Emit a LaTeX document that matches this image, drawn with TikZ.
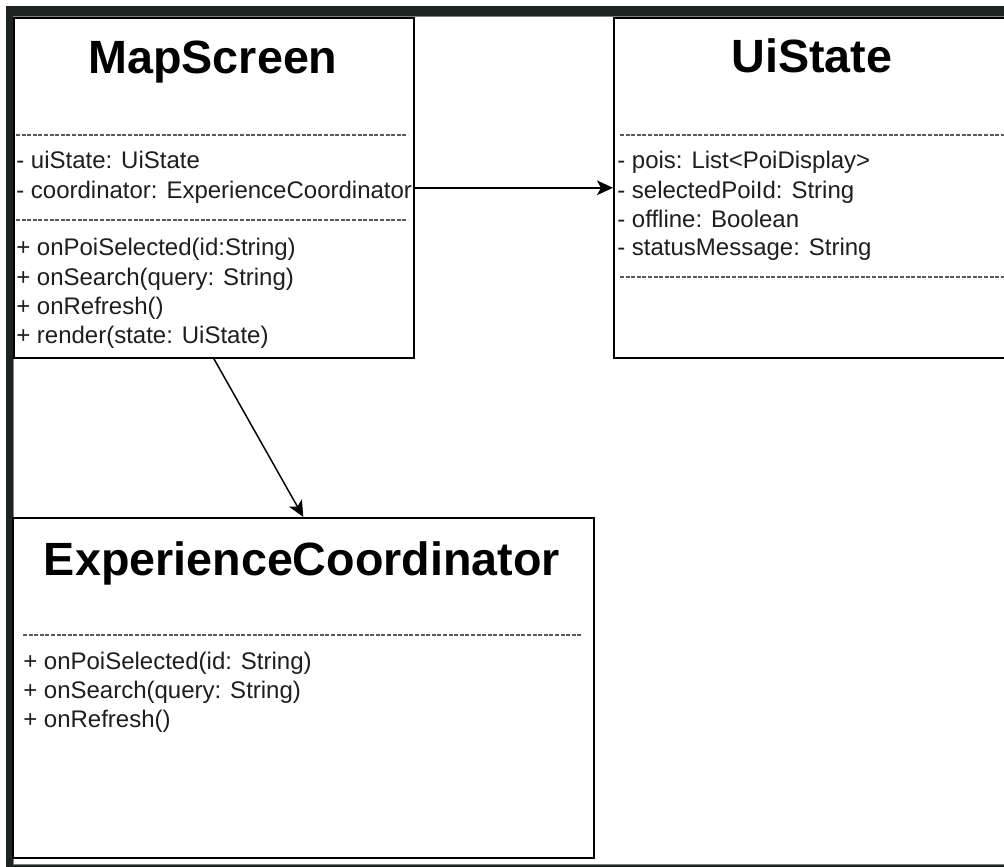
\documentclass[tikz,border=0pt]{standalone}
\usepackage{fontspec}
\setmainfont{Liberation Sans}
\usetikzlibrary{arrows.meta}
\definecolor{framedark}{RGB}{27,36,32}
\definecolor{textgray}{RGB}{30,30,30}

\tikzset{
  classbox/.style={draw=black, line width=1.2pt, fill=white, anchor=north west, inner sep=0pt},
  classname/.style={font=\fontsize{35pt}{40pt}\selectfont\bfseries, anchor=base, inner sep=0pt},
  member/.style={font=\fontsize{18pt}{22pt}\selectfont, text=textgray, anchor=base west, inner sep=0pt},
  sepline/.style={draw=gray!70!black, line width=0.8pt, dash pattern=on 3pt off 1.2pt},
  assoc/.style={-{Stealth[length=12pt,width=11pt,inset=3pt]}, line width=1.1pt}
}

\begin{document}
\begin{tikzpicture}[x=0.75pt, y=-0.75pt]
  \clip (0,0) rectangle (1004,867);
  % window frame
  \fill[framedark] (6,6) rectangle (1004,867);
  \filldraw[fill=white, draw=gray, line width=0.6pt] (13,16) rectangle (1010,864);

  % MapScreen
  \node[classbox, minimum width=300pt, minimum height=255pt] (ms) at (13,17) {};
  \node[classname] (msname) at (213,74) {MapScreen};
  \draw[sepline] (16,135) -- (408,135);
  \node[member] (ms1) at (16,169) {- uiState: UiState};
  \node[member] (ms2) at (16,198) {- coordinator: ExperienceCoordinator};
  \draw[sepline] (16,220) -- (408,220);
  \node[member] (ms3) at (16,255) {+ onPoiSelected(id:String)};
  \node[member] (ms4) at (16,285) {+ onSearch(query: String)};
  \node[member] (ms5) at (16,314) {+ onRefresh()};
  \node[member] (ms6) at (16,343) {+ render(state: UiState)};

  % UiState
  \node[classbox, minimum width=298.5pt, minimum height=255pt] (ui) at (613,17) {};
  \node[classname] (uiname) at (812,73) {UiState};
  \draw[sepline] (620,135) -- (1004,135);
  \node[member] (ui1) at (617,168) {- pois: List\textless PoiDisplay\textgreater};
  \node[member] (ui2) at (617,198) {- selectedPoiId: String};
  \node[member] (ui3) at (617,227) {- offline: Boolean};
  \node[member] (ui4) at (617,255) {- statusMessage: String};
  \draw[sepline] (620,277) -- (1004,277);

  % ExperienceCoordinator
  \node[classbox, minimum width=435.75pt, minimum height=255pt] (ec) at (12,517) {};
  \node[classname] (ecname) at (302,575) {ExperienceCoordinator};
  \draw[sepline] (23,635) -- (582,635);
  \node[member] (ec1) at (23,669) {+ onPoiSelected(id: String)};
  \node[member] (ec2) at (23,698) {+ onSearch(query: String)};
  \node[member] (ec3) at (23,727) {+ onRefresh()};

  \draw[assoc] (ms.east) -- (ui.west);
  \draw[assoc] (ms.south) -- (ec.north);
\end{tikzpicture}
\end{document}
